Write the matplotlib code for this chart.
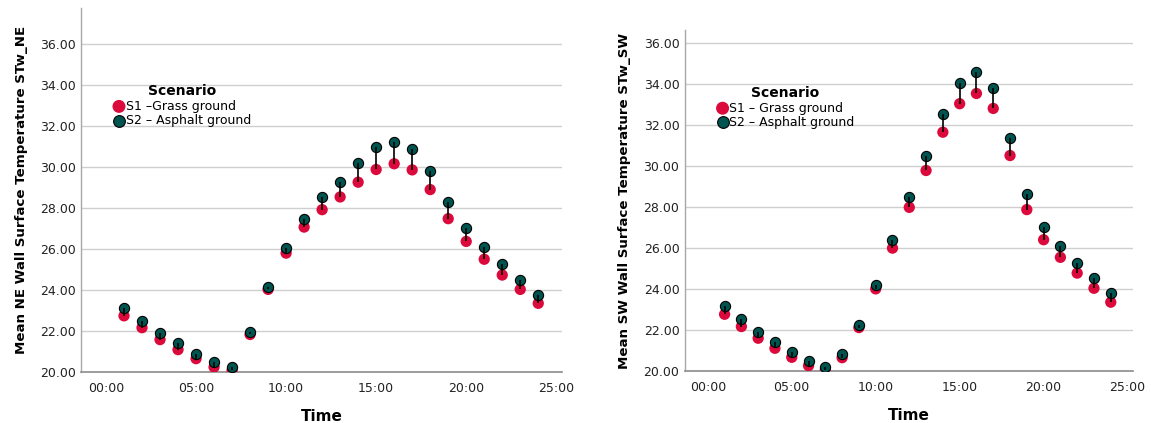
import numpy as np
import matplotlib
matplotlib.use("Agg")
import matplotlib.pyplot as plt
from matplotlib.ticker import FuncFormatter, FixedLocator

# =============================
# DATA
# =============================
hours = list(range(1, 25))

ne_s1 = [22.74, 22.16, 21.58, 21.09, 20.65, 20.24, 20.08, 21.83, 24.03, 25.80,
         27.07, 27.92, 28.54, 29.26, 29.88, 30.16, 29.86, 28.90, 27.48, 26.37,
         25.50, 24.73, 24.03, 23.35]
ne_s2 = [23.10, 22.50, 21.91, 21.39, 20.90, 20.49, 20.24, 21.96, 24.16, 26.04,
         27.48, 28.52, 29.29, 30.20, 30.97, 31.23, 30.89, 29.80, 28.29, 27.02,
         26.09, 25.26, 24.49, 23.77]

sw_s1 = [22.77, 22.17, 21.60, 21.11, 20.67, 20.26, 20.05, 20.65, 22.12, 24.01,
         26.00, 27.99, 29.79, 31.66, 33.05, 33.55, 32.82, 30.52, 27.88, 26.41,
         25.55, 24.78, 24.04, 23.36]
sw_s2 = [23.15, 22.53, 21.92, 21.40, 20.91, 20.51, 20.21, 20.82, 22.25, 24.21,
         26.38, 28.50, 30.49, 32.53, 34.05, 34.60, 33.82, 31.40, 28.66, 27.05,
         26.12, 25.28, 24.52, 23.80]

y_ticks = [20, 22, 24, 26, 28, 30, 32, 34, 36]
x_ticks = [0, 5, 10, 15, 20, 25]

RED = "#DC0A3C"
GREEN = "#005450"

plt.rcParams['font.family'] = ['DejaVu Sans']


def draw_panel(ax, s1, s2, labels, ylabel, ymax, legend_xy):
    ax.set_xlim(-1.36, 25.32)
    ax.set_ylim(20, ymax)

    # grid
    ax.yaxis.set_major_locator(FixedLocator(y_ticks))
    ax.xaxis.set_major_locator(FixedLocator(x_ticks))
    ax.grid(True, axis="y", color="#cfcfcf", lw=1.0, zorder=0)
    ax.set_axisbelow(True)

    h1 = ax.scatter(hours, s1, s=66, color=RED, edgecolors="none",
                    zorder=3, label=labels[0])
    h2 = ax.scatter(hours, s2, s=54, color=GREEN, edgecolors="black",
                    linewidths=0.8, zorder=4, label=labels[1])
    ax.vlines(hours, s1, s2, color="black", lw=1.2, zorder=5)

    for side in ["top", "right"]:
        ax.spines[side].set_visible(False)
    ax.spines["left"].set_color("#a8a8a8")
    ax.spines["bottom"].set_color("#8c8c8c")
    ax.spines["left"].set_linewidth(1.0)
    ax.spines["bottom"].set_linewidth(1.2)

    ax.tick_params(length=0, labelsize=9, colors="#222222")
    ax.tick_params(axis="y", pad=4)
    ax.tick_params(axis="x", pad=7)
    ax.yaxis.set_major_formatter(FuncFormatter(lambda v, p: f"{v:.2f}"))
    ax.xaxis.set_major_formatter(FuncFormatter(lambda v, p: f"{int(v):02d}:00"))

    ax.set_ylabel(ylabel, fontsize=9.6, fontweight="bold", labelpad=9)
    ax.set_xlabel("Time", fontsize=11, fontweight="bold", labelpad=10)

    leg = ax.legend(handles=[h1, h2], title="Scenario", frameon=False,
                    loc="upper left", bbox_to_anchor=legend_xy,
                    fontsize=9, handletextpad=0.05, handlelength=1.0,
                    borderaxespad=0, labelspacing=0.1, borderpad=0,
                    markerscale=1.15)
    leg.get_title().set_fontweight("bold")
    leg.get_title().set_fontsize(10)
    return ax


fig = plt.figure(figsize=(11.51, 4.23), dpi=100)

ax1 = fig.add_axes([0.0708, 0.1206, 0.4175, 0.8605])
draw_panel(ax1, ne_s1, ne_s2,
           ["S1 \u2013Grass ground", "S2 \u2013 Asphalt ground"],
           "Mean NE Wall Surface Temperature STw_NE", 37.76, (0.065, 0.79))

ax2 = fig.add_axes([0.5951, 0.1229, 0.3892, 0.8062])
draw_panel(ax2, sw_s1, sw_s2,
           ["S1 \u2013 Grass ground", "S2 \u2013 Asphalt ground"],
           "Mean SW Wall Surface Temperature STw_SW", 36.65, (0.07, 0.835))

fig.savefig("out.png", dpi=100)
